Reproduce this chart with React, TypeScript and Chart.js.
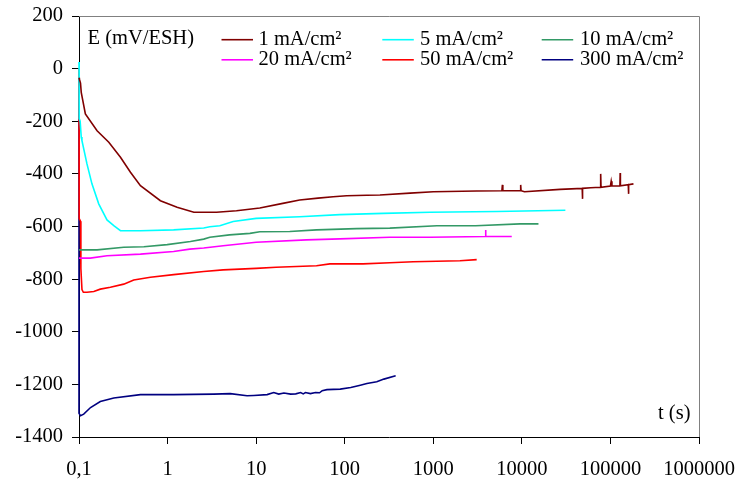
import React, { useEffect, useRef } from "react";
import { Chart, registerables } from "chart.js";
Chart.register(...registerables);

const xTickValues = [0.1, 1, 10, 100, 1000, 10000, 100000, 1000000];
const xTickLabels = ["0,1", "1", "10", "100", "1000", "10000", "100000", "1000000"];
const yTickValues = [-1400, -1200, -1000, -800, -600, -400, -200, 0, 200];
const yTickLabels = ["-1400", "-1200", "-1000", "-800", "-600", "-400", "-200", "0", "200"];

const yAxisTitle = "E (mV/ESH)";
const xAxisTitle = "t (s)";

const seriesLabels = ["1 mA/cm²", "5 mA/cm²", "10 mA/cm²", "20 mA/cm²", "50 mA/cm²", "300 mA/cm²"];
const seriesColors = ["#800000", "#00FFFF", "#339966", "#FF00FF", "#FF0000", "#000080"];

// 1 mA/cm²
const t1 = [0.1, 0.101, 0.104, 0.106, 0.118, 0.16, 0.217, 0.294, 0.381, 0.494, 0.83, 1.28, 1.98, 3.57, 6, 11, 20, 31, 50, 74, 105, 177, 250, 546, 1000, 3090, 5950, 6030, 6100, 9600, 9700, 9800, 10700, 27000, 48000, 48300, 48600, 60000, 76900, 77600, 78300, 100000, 102000, 104000, 128000, 128800, 129600, 159000, 160000, 161000, 182000];
const e1 = [-35, -40, -55, -90, -172, -236, -280, -337, -394, -445, -502, -527, -546, -546, -540, -530, -512, -499, -492, -487, -483, -481, -480, -473, -468, -465, -464, -442, -464, -464, -442, -464, -468, -459, -455, -495, -455, -453, -451, -400, -451, -446, -428, -446, -445, -397, -445, -441, -476, -441, -438];

// 5 mA/cm²
const t5 = [0.1, 0.1005, 0.103, 0.106, 0.108, 0.123, 0.14, 0.167, 0.207, 0.247, 0.294, 0.494, 1.17, 2.56, 3.0, 3.89, 5.5, 10, 31, 88, 272, 918, 5200, 31000];
const e5 = [25, -190, -200, -260, -274, -362, -438, -514, -575, -597, -616, -616, -613, -606, -601, -597, -581, -569, -563, -555, -550, -546, -543, -538];

// 10 mA/cm²
const t10 = [0.1, 0.16, 0.32, 0.54, 0.99, 1.81, 2.56, 3.0, 5.0, 8.5, 11, 24, 48, 136, 323, 1100, 3000, 9550, 15400];
const e10 = [-689, -689, -679, -677, -669, -657, -648, -641, -632, -626, -620, -619, -613, -608, -606, -597, -597, -590, -590];

// 20 mA/cm²
const t20 = [0.1, 0.134, 0.207, 0.494, 1.17, 1.78, 2.56, 4.24, 10, 37, 88, 323, 918, 3850, 3890, 3930, 7690];
const e20 = [-720, -720, -711, -705, -695, -686, -682, -673, -660, -651, -647, -641, -641, -638, -613, -638, -638];

// 50 mA/cm²
const t50 = [0.1, 0.1, 0.101, 0.104, 0.105, 0.108, 0.112, 0.123, 0.147, 0.174, 0.226, 0.32, 0.415, 0.64, 1.17, 2.56, 4.24, 10, 16.8, 48, 68, 161, 323, 594, 2000, 3090];
const e50 = [0, -90, -570, -580, -760, -840, -850, -850, -847, -838, -831, -819, -803, -793, -783, -771, -765, -759, -755, -749, -742, -742, -738, -734, -730, -726];

// 300 mA/cm²
const t300 = [0.1, 0.1, 0.104, 0.113, 0.135, 0.174, 0.247, 0.494, 1.17, 3.33, 5.1, 7.9, 9.4, 13.3, 15.8, 18, 20.6, 24.5, 28, 31.8, 34, 36, 41, 46.9, 52, 55.7, 63, 89, 117, 150, 178, 230, 277, 376];
const e300 = [-40, -1310, -1319, -1313, -1288, -1265, -1252, -1239, -1239, -1237, -1235, -1243, -1242, -1239, -1231, -1237, -1233, -1237, -1236, -1231, -1236, -1231, -1235, -1231, -1232, -1224, -1220, -1218, -1212, -1203, -1197, -1190, -1180, -1167];

const seriesT = [t1, t5, t10, t20, t50, t300];
const seriesE = [e1, e5, e10, e20, e50, e300];

const FONT = "'Liberation Serif', 'Times New Roman', serif";
const FONT_SIZE = 20.5;

const overlayPlugin = {
  id: "overlay",
  afterDraw(chart: any) {
    const ctx = chart.ctx;
    const a = chart.chartArea;
    ctx.save();
    ctx.strokeStyle = "#808080";
    ctx.lineWidth = 1;
    ctx.beginPath();
    ctx.moveTo(a.left, a.top + 0.5);
    ctx.lineTo(a.right + 0.5, a.top + 0.5);
    ctx.lineTo(a.right + 0.5, a.bottom);
    ctx.stroke();

    ctx.font = `${FONT_SIZE}px ${FONT}`;
    ctx.fillStyle = "#000";
    ctx.textBaseline = "middle";
    ctx.textAlign = "left";
    ctx.fillText(yAxisTitle, 87.5, 38.8);
    ctx.textAlign = "right";
    ctx.fillText(xAxisTitle, 690.5, 414);

    const lineX = [221.5, 382.3, 541.7];
    const textX = [258.5, 420, 580];
    const rowY = [39.7, 59.8];
    ctx.textAlign = "left";
    chart.data.datasets.forEach((ds: any, i: number) => {
      const col = i % 3;
      const row = Math.floor(i / 3);
      const y = rowY[row];
      ctx.strokeStyle = ds.borderColor;
      ctx.lineWidth = 1.6;
      ctx.beginPath();
      ctx.moveTo(lineX[col], y);
      ctx.lineTo(lineX[col] + 31.5, y);
      ctx.stroke();
      ctx.fillStyle = "#000";
      ctx.fillText(ds.label, textX[col], y - 0.3);
    });
    ctx.restore();
  },
};

export default function App() {
  const canvasRef = useRef<HTMLCanvasElement | null>(null);

  useEffect(() => {
    document.body.style.margin = "0";
    const canvas = canvasRef.current;
    if (!canvas) return;
    const datasets = seriesLabels.map((label, i) => ({
      label,
      data: seriesT[i].map((t, j) => ({ x: t, y: seriesE[i][j] })),
      borderColor: seriesColors[i],
      backgroundColor: seriesColors[i],
      borderWidth: 1.6,
      pointRadius: 0,
      tension: 0,
      fill: false,
      clip: false as any,
    }));
    const chart = new Chart(canvas, {
      type: "line",
      data: { datasets },
      options: {
        animation: false,
        responsive: false,
        devicePixelRatio: 1,
        layout: { padding: { left: 0, top: 16, right: 39, bottom: 0 } },
        plugins: { legend: { display: false }, tooltip: { enabled: false } },
        scales: {
          x: {
            type: "logarithmic",
            min: 0.1,
            max: 1000000,
            afterBuildTicks: (scale: any) => {
              scale.ticks = xTickValues.map((v) => ({ value: v }));
            },
            afterFit: (scale: any) => {
              scale.height = 46;
              scale.paddingLeft = 0;
              scale.paddingRight = 0;
            },
            ticks: {
              autoSkip: false,
              maxRotation: 0,
              minRotation: 0,
              padding: 13,
              color: "#000",
              font: { family: FONT, size: FONT_SIZE },
              callback: (value: any) => {
                const idx = xTickValues.findIndex((v) => Math.abs(v - Number(value)) < 1e-9 * Math.max(1, v));
                return idx >= 0 ? xTickLabels[idx] : "";
              },
            },
            grid: { display: true, drawOnChartArea: false, drawTicks: true, tickLength: 7, color: "#000", lineWidth: 1 },
            border: { display: true, color: "#000", width: 1 },
          },
          y: {
            type: "linear",
            min: -1400,
            max: 200,
            afterBuildTicks: (scale: any) => {
              scale.ticks = yTickValues.map((v) => ({ value: v }));
            },
            afterFit: (scale: any) => {
              scale.width = 79;
              scale.paddingTop = 0;
              scale.paddingBottom = 0;
            },
            ticks: {
              autoSkip: false,
              padding: 9,
              color: "#000",
              font: { family: FONT, size: FONT_SIZE },
              callback: (value: any) => {
                const idx = yTickValues.indexOf(Number(value));
                return idx >= 0 ? yTickLabels[idx] : "";
              },
            },
            grid: { display: true, drawOnChartArea: false, drawTicks: true, tickLength: 7, color: "#000", lineWidth: 1 },
            border: { display: true, color: "#000", width: 1 },
          },
        },
      },
      plugins: [overlayPlugin],
    } as any);
    return () => chart.destroy();
  }, []);

  return (
    <div style={{ position: "absolute", left: 0, top: 0, width: 738, height: 483, background: "#fff" }}>
      <canvas ref={canvasRef} width={738} height={483} style={{ display: "block" }} />
    </div>
  );
}
